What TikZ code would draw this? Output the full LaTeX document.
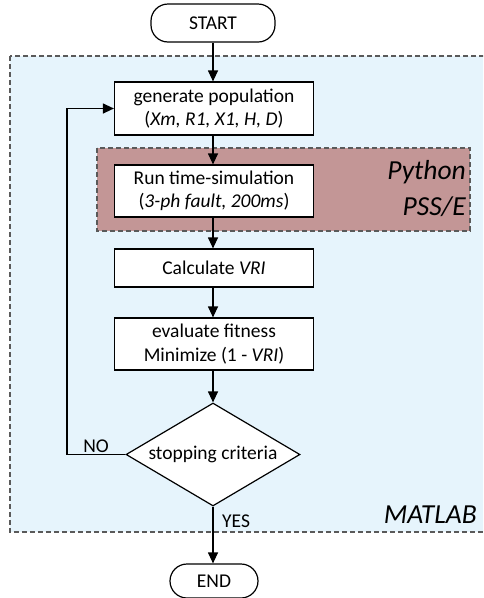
\documentclass[tikz,border=0pt]{standalone}
\usepackage{fontspec}
\setmainfont{Carlito}
\usetikzlibrary{shapes.geometric,arrows.meta}
\definecolor{matfill}{HTML}{E6F4FC}
\definecolor{pyfill}{HTML}{C39696}
\definecolor{dashgray}{HTML}{5A5A5A}
\tikzset{
  txt/.style={font=\fontsize{19.5}{23.5}\selectfont},
  bigtxt/.style={font=\fontsize{27.5}{36}\selectfont\itshape},
  procbox/.style={draw=black, line width=1.2pt, fill=white, minimum width=199pt, inner sep=0pt, align=center, txt},
  termbox/.style={draw=black, line width=1.2pt, fill=white, rounded corners=17pt, inner sep=0pt, txt},
  decbox/.style={draw=black, line width=1.2pt, fill=white, diamond, aspect=1.69, minimum width=174pt, minimum height=103pt, inner sep=0pt, txt},
  region/.style={draw=dashgray, line width=1.2pt, dash pattern=on 5pt off 3pt},
  flow/.style={line width=1.2pt, -{Triangle[length=11pt,width=10pt]}},
}
\begin{document}
\begin{tikzpicture}[x=1pt,y=-1pt]
\useasboundingbox (0,0) rectangle (483,598);
\clip (0,0) rectangle (483,598);
% regions
\path[region, fill=matfill] (10,56) rectangle (495,532);
\path[region, fill=pyfill] (97,148) rectangle (470,231);
\node[bigtxt, align=right, anchor=north east, inner sep=0pt] (pylbl) at (466,160) {Python\\PSS/E};
\node[bigtxt, anchor=base east, inner sep=0pt] (matlbl) at (477,523) {MATLAB};
% nodes
\node[termbox, minimum width=124pt, minimum height=38pt] (start) at (213,23) {START};
\node[procbox, minimum height=53pt] (gen) at (214,108.5) {generate population\\(\textit{Xm, R1, X1, H, D})};
\node[procbox, minimum height=52pt] (run) at (214,191) {Run time-simulation\\(\textit{3-ph fault, 200ms})};
\node[procbox, minimum height=38pt] (calc) at (214,268) {Calculate \textit{VRI}};
\node[procbox, minimum height=52pt] (eval) at (214,344) {evaluate fitness\\Minimize (1 - \textit{VRI})};
\node[decbox] (dec) at (213,454.5) {stopping criteria};
\node[termbox, minimum width=88pt, minimum height=34pt] (end) at (214,581) {END};
\coordinate (loopc) at (67,454.5);
% connectors
\draw[flow] (start.south) -- (start.south |- gen.north);
\draw[flow] (gen.south -| start.south) -- (start.south |- run.north);
\draw[flow] (run.south -| start.south) -- (start.south |- calc.north);
\draw[flow] (calc.south -| start.south) -- (start.south |- eval.north);
\draw[flow] (eval.south -| dec.north) -- (dec.north);
\draw[flow] (dec.south) -- (dec.south |- end.north);
\draw[flow] (dec.west) -- (loopc) |- (gen.west);
% labels
\node[txt, anchor=base, inner sep=0pt] (nolbl) at (96,452) {NO};
\node[txt, anchor=base west, inner sep=0pt] (yeslbl) at (222,527) {YES};
\end{tikzpicture}
\end{document}
